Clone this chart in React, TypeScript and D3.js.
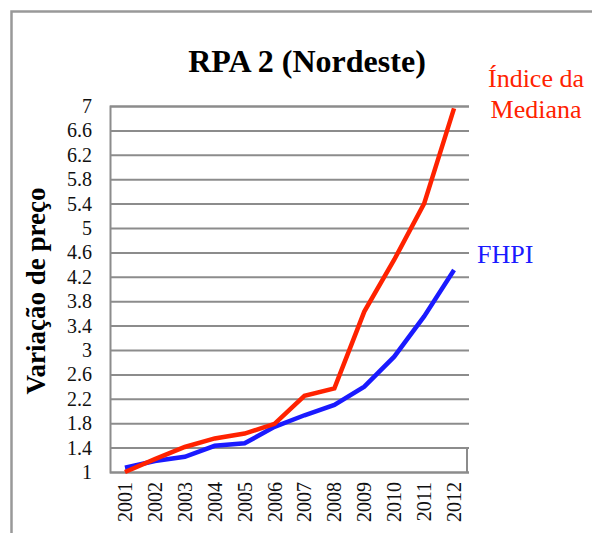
import React from 'react';
import { select, scaleBand, scaleLinear, line, axisLeft, axisBottom } from 'd3';

const years = ['2001', '2002', '2003', '2004', '2005', '2006', '2007', '2008', '2009', '2010', '2011', '2012'];
const mediana = [1.0, 1.21, 1.41, 1.55, 1.63, 1.79, 2.25, 2.37, 3.63, 4.48, 5.4, 6.96];
const fhpi = [1.07, 1.18, 1.25, 1.43, 1.47, 1.74, 1.93, 2.1, 2.4, 2.89, 3.55, 4.31];
const yTicks = [1, 1.4, 1.8, 2.2, 2.6, 3, 3.4, 3.8, 4.2, 4.6, 5, 5.4, 5.8, 6.2, 6.6, 7];

const dims = {
  width: 592,
  height: 533,
  left: 110,
  right: 469,
  top: 106,
  bottom: 472,
};

const serif = '"Liberation Serif", "Times New Roman", serif';

const App: React.FC = () => {
  const svgRef = React.useRef<SVGSVGElement>(null);

  React.useEffect(() => {
    const svg = select(svgRef.current);
    svg.selectAll('*').remove();

    const x = scaleBand().domain(years).range([dims.left, dims.right]);
    const y = scaleLinear().domain([1, 7]).range([dims.bottom, dims.top]);

    // outer frame
    svg.append('path')
      .attr('d', `M11.5,${dims.height} V11.5 H${dims.width}`)
      .attr('fill', 'none')
      .attr('stroke', '#999')
      .attr('stroke-width', 2.5);

    // y axis with gridlines
    const yAxisGroup = svg.append('g')
      .attr('transform', `translate(${dims.left},0)`)
      .call(axisLeft(y).tickValues(yTicks).tickSize(-(dims.right - dims.left)).tickPadding(18).tickFormat(d => `${d}`));
    yAxisGroup.select('.domain').attr('stroke', '#8c8c8c').attr('stroke-width', 2);
    yAxisGroup.selectAll('.tick line').attr('stroke', '#8c8c8c').attr('stroke-width', 2);
    yAxisGroup.selectAll('.tick text')
      .attr('font-family', serif)
      .attr('font-size', 20)
      .attr('fill', '#111');

    // small right edge in the bottom band
    svg.append('line')
      .attr('x1', dims.right - 2).attr('x2', dims.right - 2)
      .attr('y1', y(1.4)).attr('y2', y(1))
      .attr('stroke', '#8c8c8c')
      .attr('stroke-width', 2);

    // x axis labels (rotated)
    const xAxisGroup = svg.append('g')
      .attr('transform', `translate(0,${dims.bottom})`)
      .call(axisBottom(x).tickSize(0).tickPadding(0));
    xAxisGroup.select('.domain').remove();
    xAxisGroup.selectAll('.tick text')
      .attr('font-family', serif)
      .attr('font-size', 20)
      .attr('fill', '#111')
      .attr('text-anchor', 'end')
      .attr('dy', '0.35em')
      .attr('transform', 'translate(0,10) rotate(-90)');

    const mkLine = line<number>()
      .x((_, i) => (x(years[i]) as number) + x.bandwidth() / 2)
      .y(d => y(d));

    svg.append('path')
      .datum(fhpi)
      .attr('d', mkLine)
      .attr('fill', 'none')
      .attr('stroke', '#1a1aff')
      .attr('stroke-width', 4.5);

    svg.append('path')
      .datum(mediana)
      .attr('d', mkLine)
      .attr('fill', 'none')
      .attr('stroke', '#ff2200')
      .attr('stroke-width', 4.5);

    // title
    svg.append('text')
      .attr('x', 307)
      .attr('y', 72)
      .attr('text-anchor', 'middle')
      .attr('font-family', serif)
      .attr('font-weight', 'bold')
      .attr('font-size', 32)
      .attr('fill', '#000')
      .text('RPA 2 (Nordeste)');

    // y label
    svg.append('text')
      .attr('transform', 'translate(45,291) rotate(-90)')
      .attr('text-anchor', 'middle')
      .attr('font-family', serif)
      .attr('font-weight', 'bold')
      .attr('font-size', 27)
      .attr('fill', '#000')
      .text('Variação de preço');

    // series labels
    const medLabel = svg.append('text')
      .attr('x', 536)
      .attr('y', 87)
      .attr('text-anchor', 'middle')
      .attr('font-family', serif)
      .attr('font-size', 26)
      .attr('fill', '#ff2200');
    medLabel.append('tspan').attr('x', 536).text('Índice da');
    medLabel.append('tspan').attr('x', 536).attr('dy', 31).text('Mediana');

    svg.append('text')
      .attr('x', 477)
      .attr('y', 263)
      .attr('font-family', serif)
      .attr('font-size', 26)
      .attr('fill', '#1a1aff')
      .text('FHPI');
  }, []);

  return (
    <svg
      ref={svgRef}
      width={dims.width}
      height={dims.height}
      style={{ position: 'absolute', left: 0, top: 0, background: '#fff' }}
    />
  );
};

export default App;
